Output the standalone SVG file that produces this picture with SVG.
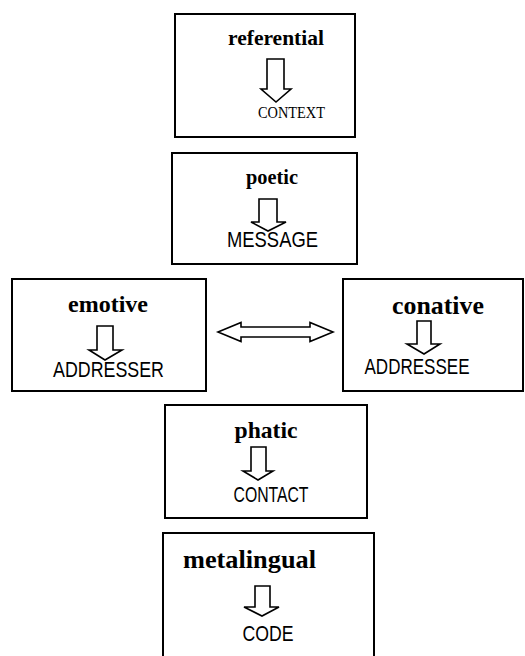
<svg xmlns="http://www.w3.org/2000/svg" width="525" height="656" viewBox="0 0 525 656">
  <style>
    .box { fill: #ffffff; stroke: #000000; stroke-width: 2; }
    .blk { fill: #ffffff; stroke: #000000; stroke-width: 1.6; stroke-linejoin: miter; }
    .fn { font-family: "Liberation Serif", "Times New Roman", serif; font-weight: bold; fill: #000000; text-anchor: middle; }
    .fac { font-family: "Liberation Sans", Arial, sans-serif; fill: #000000; text-anchor: middle; }
    .facs { font-family: "Liberation Serif", "Times New Roman", serif; fill: #000000; text-anchor: middle; }
  </style>
  <rect x="0" y="0" width="525" height="656" fill="#ffffff"/>

  <!-- referential / CONTEXT -->
  <g id="referential">
    <rect class="box" x="175" y="14" width="180" height="123"/>
    <text class="fn" x="276" y="45" font-size="21" textLength="96" lengthAdjust="spacingAndGlyphs">referential</text>
    <path class="blk" d="M267,59 H284 V89 H291 L276,102 L261,89 H267 Z"/>
    <text class="facs" x="291.5" y="118" font-size="17.5" textLength="67" lengthAdjust="spacingAndGlyphs">CONTEXT</text>
  </g>

  <!-- poetic / MESSAGE -->
  <g id="poetic">
    <rect class="box" x="172" y="153" width="185" height="111"/>
    <text class="fn" x="272" y="184" font-size="20.5" textLength="52" lengthAdjust="spacingAndGlyphs">poetic</text>
    <path class="blk" d="M259,199 H277 V222 H286 L268,231 L251,222 H259 Z"/>
    <text class="fac" x="272.5" y="247" font-size="22" textLength="91" lengthAdjust="spacingAndGlyphs">MESSAGE</text>
  </g>

  <!-- emotive / ADDRESSER -->
  <g id="emotive">
    <rect class="box" x="12" y="279" width="194" height="112"/>
    <text class="fn" x="108" y="312" font-size="23.5" textLength="80" lengthAdjust="spacingAndGlyphs">emotive</text>
    <path class="blk" d="M97,326 H113 V350 H122 L105,360 L89,350 H97 Z"/>
    <text class="fac" x="108.5" y="377" font-size="22" textLength="111" lengthAdjust="spacingAndGlyphs">ADDRESSER</text>
  </g>

  <!-- conative / ADDRESSEE -->
  <g id="conative">
    <rect class="box" x="343" y="279" width="180" height="112"/>
    <text class="fn" x="438" y="314" font-size="25.5" textLength="92" lengthAdjust="spacingAndGlyphs">conative</text>
    <path class="blk" d="M417,321 H431 V344 H440 L424,354 L407,344 H417 Z"/>
    <text class="fac" x="417" y="374" font-size="22" textLength="105" lengthAdjust="spacingAndGlyphs">ADDRESSEE</text>
  </g>

  <!-- phatic / CONTACT -->
  <g id="phatic">
    <rect class="box" x="165" y="405" width="202" height="113"/>
    <text class="fn" x="266" y="438" font-size="23.5" textLength="63" lengthAdjust="spacingAndGlyphs">phatic</text>
    <path class="blk" d="M251,447 H266 V471 H273 L258,480 L243,471 H251 Z"/>
    <text class="fac" x="271" y="502" font-size="22" textLength="75" lengthAdjust="spacingAndGlyphs">CONTACT</text>
  </g>

  <!-- metalingual / CODE -->
  <g id="metalingual">
    <rect class="box" x="163" y="533" width="211" height="130"/>
    <text class="fn" x="249.5" y="568" font-size="26" textLength="133" lengthAdjust="spacingAndGlyphs">metalingual</text>
    <path class="blk" d="M255,586 H270 V607 H279 L262,616 L244,607 H255 Z"/>
    <text class="fac" x="268" y="641" font-size="22" textLength="51" lengthAdjust="spacingAndGlyphs">CODE</text>
  </g>

  <!-- two-way link between addresser and addressee -->
  <g id="connectors">
    <path class="blk" d="M218,332 L241,322.5 V327 H310 V322.5 L333,332 L310,341.5 V337 H241 V341.5 Z"/>
  </g>
</svg>
